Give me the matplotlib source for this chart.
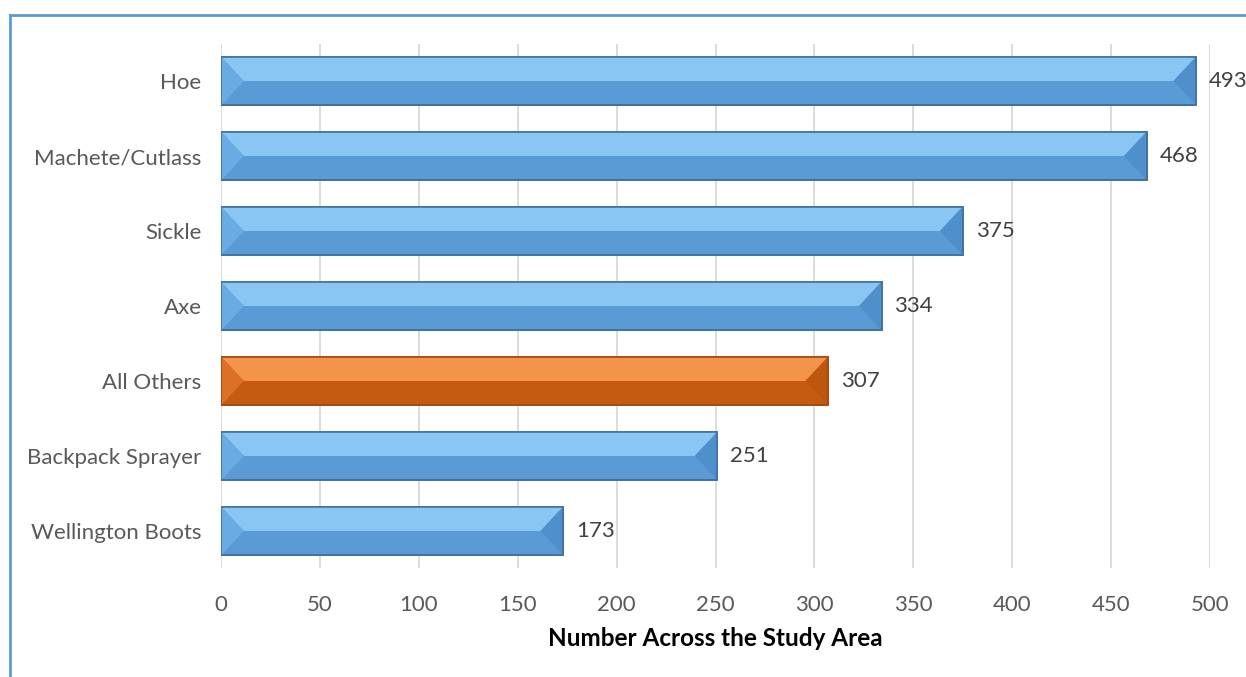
import matplotlib
matplotlib.use("Agg")
import matplotlib.pyplot as plt
from matplotlib.patches import Polygon
from matplotlib.lines import Line2D

categories = ["Hoe", "Machete/Cutlass", "Sickle", "Axe", "All Others", "Backpack Sprayer", "Wellington Boots"]
values = [493, 468, 375, 334, 307, 251, 173]
highlight = "All Others"
xticks = [0, 50, 100, 150, 200, 250, 300, 350, 400, 450, 500]
xlabel = "Number Across the Study Area"

plt.rcParams['font.family'] = ['Lato', 'DejaVu Sans']

blue = dict(top="#89c6f4", bottom="#5b9bd5", left="#6aabe3", right="#4f8fcc", edge="#41719c")
orange = dict(top="#f4934a", bottom="#c55a11", left="#dc7026", right="#bd560f", edge="#a24a0e")

fig = plt.figure(figsize=(12.46, 6.77), dpi=100)
ax = fig.add_axes([0.1774, 0.1603, 0.9711 - 0.1774, 0.9357 - 0.1603])

n = len(categories)
ypos = list(range(n))
h = 0.65
bevel = 11.5

for i, (cat, v) in enumerate(zip(categories, values)):
    c = orange if cat == highlight else blue
    y = ypos[i]
    top, bot, mid = y - h / 2, y + h / 2, y
    ax.barh(y, v, height=h, color=c["bottom"], edgecolor=c["edge"], linewidth=1.2, zorder=2)
    ax.add_patch(Polygon([(0, top), (v, top), (v - bevel, mid), (bevel, mid)], closed=True,
                         facecolor=c["top"], edgecolor="none", zorder=3))
    ax.add_patch(Polygon([(0, top), (bevel, mid), (0, bot)], closed=True,
                         facecolor=c["left"], edgecolor="none", zorder=3))
    ax.add_patch(Polygon([(v, top), (v, bot), (v - bevel, mid)], closed=True,
                         facecolor=c["right"], edgecolor="none", zorder=3))
    ax.barh(y, v, height=h, color="none", edgecolor=c["edge"], linewidth=1.2, zorder=4)
    ax.text(v + 6.5, y, str(v), va="center", ha="left", fontsize=16, color="#404040", zorder=5,
            clip_on=False)

ax.set_ylim(n - 0.5, -0.5)
ax.set_xlim(0, 500)
ax.set_yticks(ypos)
ax.set_yticklabels(categories, fontsize=16, color="#595959")
ax.set_xticks(xticks)
ax.set_xticklabels([str(t) for t in xticks], fontsize=16, color="#595959")
ax.tick_params(axis="y", length=0, pad=14)
ax.tick_params(axis="x", length=0, pad=19)
ax.xaxis.grid(True, color="#d9d9d9", linewidth=1.3, zorder=0)
ax.set_axisbelow(True)
for s in ax.spines.values():
    s.set_visible(False)
ax.set_xlabel(xlabel, fontsize=17.5, fontweight="bold", color="black", labelpad=9)

# chart border (top and left)
fig.add_artist(Line2D([10 / 1246, 1.0], [1 - 15 / 677, 1 - 15 / 677], color="#5b9bd5", linewidth=2,
                      transform=fig.transFigure))
fig.add_artist(Line2D([10 / 1246, 10 / 1246], [1 - 15 / 677, 0], color="#5b9bd5", linewidth=2,
                      transform=fig.transFigure))

fig.savefig("out.png", dpi=100)
